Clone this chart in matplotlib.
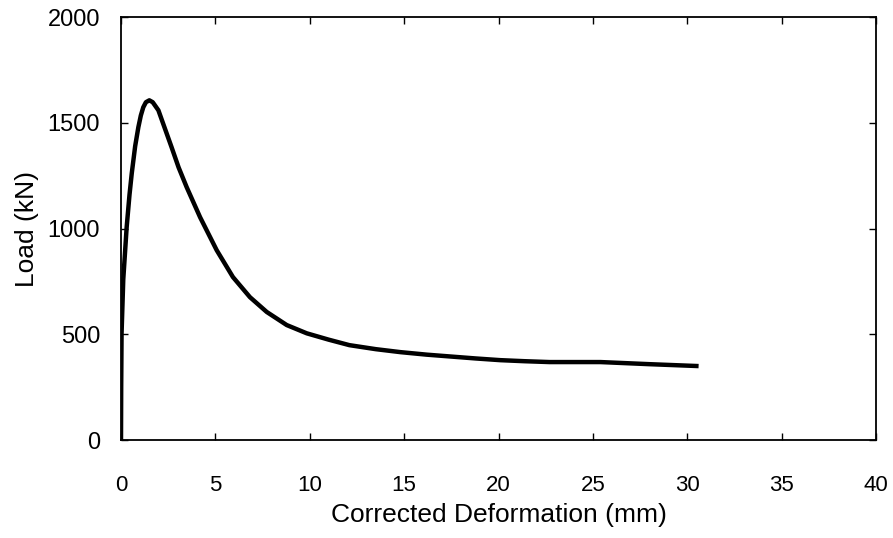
import matplotlib
matplotlib.use("Agg")
import matplotlib.pyplot as plt

# load-deformation curve
deformation = [0.0, 0.01, 0.03, 0.12, 0.30, 0.45, 0.57, 0.75, 0.92, 1.05, 1.18,
               1.32, 1.50, 1.68, 1.98, 2.30, 2.68, 3.05, 3.48, 4.19, 5.07,
               5.93, 6.83, 7.72, 8.78, 9.84, 11.0, 12.1, 13.5, 14.8, 16.2,
               17.5, 18.8, 20.1, 21.4, 22.7, 25.4, 28.0, 30.6]
load = [0, 250, 505, 760, 1007, 1160, 1262, 1390, 1480, 1535, 1574,
        1598, 1607, 1598, 1560, 1480, 1385, 1290, 1196, 1054, 898,
        771, 676, 606, 544, 505, 475, 449, 430, 416, 404,
        395, 386, 378, 373, 369, 369, 359, 350]

xticks = [0, 5, 10, 15, 20, 25, 30, 35, 40]
yticks = [0, 500, 1000, 1500, 2000]

plt.rcParams['font.family'] = ['Liberation Sans', 'DejaVu Sans']

fig = plt.figure(figsize=(8.93, 5.38), dpi=100)
ax = fig.add_axes([0.1355, 0.182, 0.8455, 0.786])

ax.plot(deformation, load, color='black', lw=3.2, solid_capstyle='butt',
        solid_joinstyle='round')

ax.set_xlim(0, 40)
ax.set_ylim(0, 2000)
ax.set_xticks(xticks)
ax.set_yticks(yticks)
ax.tick_params(direction='in', length=5, width=1, top=True, right=True)
ax.tick_params(axis='x', pad=25, labelsize=16)
ax.tick_params(axis='y', pad=15, labelsize=17)
for s in ax.spines.values():
    s.set_linewidth(1.3)

ax.set_xlabel('Corrected Deformation (mm)', fontsize=19, labelpad=5)
ax.set_ylabel('Load (kN)', fontsize=19, labelpad=6)

fig.savefig('out.png', dpi=100)
